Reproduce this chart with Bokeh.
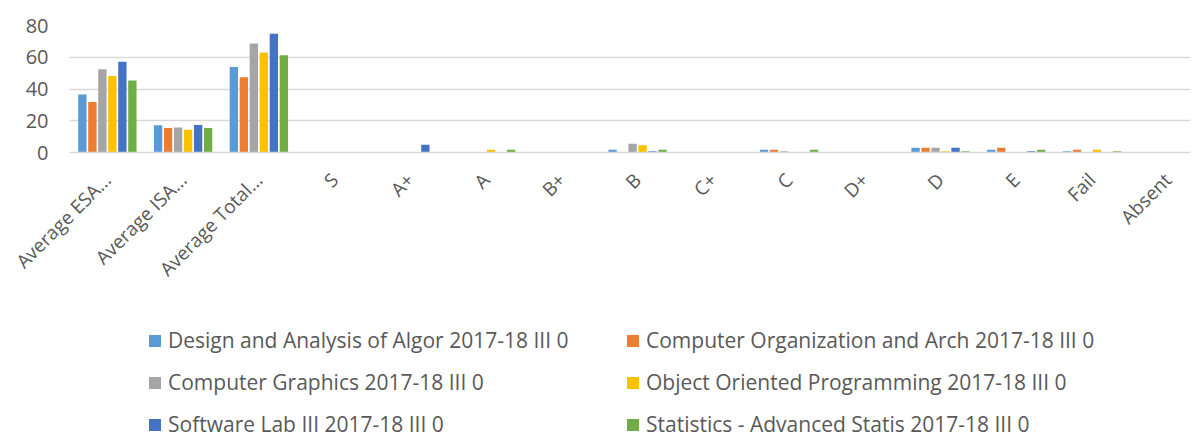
import math
from bokeh.plotting import figure
from bokeh.layouts import column
from bokeh.models import (ColumnDataSource, Range1d, FixedTicker, Legend, LegendItem)
from bokeh.transform import dodge
from bokeh.embed import file_html
from bokeh.resources import INLINE

categories = ["Average ESA...", "Average ISA...", "Average Total...", "S", "A+", "A",
              "B+", "B", "C+", "C", "D+", "D", "E", "Fail", "Absent"]

series_names = [
    "Design and Analysis of Algor 2017-18 III 0",
    "Computer Organization and Arch 2017-18 III 0",
    "Computer Graphics 2017-18 III 0",
    "Object Oriented Programming 2017-18 III 0",
    "Software Lab III 2017-18 III 0",
    "Statistics - Advanced Statis 2017-18 III 0",
]

design_algo   = [36.5, 17.1, 53.9, 0, 0, 0,   0, 1.7, 0, 1.7, 0, 3.0, 1.7, 0.8, 0]
comp_org      = [31.8, 15.4, 47.4, 0, 0, 0,   0, 0,   0, 1.7, 0, 3.0, 3.0, 1.7, 0]
comp_graphics = [52.5, 15.8, 68.7, 0, 0, 0,   0, 5.5, 0, 0.8, 0, 3.0, 0,   0,   0]
oop           = [48.2, 14.3, 63.0, 0, 0, 1.7, 0, 4.5, 0, 0,   0, 0.8, 0,   1.7, 0]
software_lab  = [57.1, 17.3, 74.8, 0, 4.9, 0, 0, 0.8, 0, 0,   0, 3.0, 0.8, 0,   0]
statistics    = [45.3, 15.4, 61.3, 0, 0, 1.7, 0, 1.7, 0, 1.7, 0, 0.8, 1.7, 0.8, 0]

y_ticks = [0, 20, 40, 60, 80]

colors = ["#5B9BD5", "#ED7D31", "#A5A5A5", "#FFC000", "#4472C4", "#70AD47"]
series_values = [design_algo, comp_org, comp_graphics, oop, software_lab, statistics]

idx = list(range(len(categories)))
data = {"x": idx}
for k, vals in enumerate(series_values):
    data["s%d" % k] = vals
source = ColumnDataSource(data)

FONT = "Open Sans"
TXT = "#595959"
GRID = "#D9D9D9"

p = figure(width=1190, height=302, output_backend="svg", toolbar_location=None,
           x_range=Range1d(-0.5, 14.3), y_range=Range1d(0, 80),
           min_border_left=69, min_border_right=0, min_border_top=25,
           min_border_bottom=150)
p.outline_line_color = None

step = 0.132
bw = 0.11
for k in range(6):
    p.vbar(x=dodge("x", (k - 2.5) * step, range=p.x_range), top="s%d" % k,
           width=bw, source=source, fill_color=colors[k], line_color=None)

p.xgrid.visible = False
p.ygrid.ticker = FixedTicker(ticks=y_ticks)
p.ygrid.grid_line_color = GRID
p.ygrid.grid_line_width = 1.5

p.yaxis.ticker = FixedTicker(ticks=y_ticks)
p.yaxis.axis_line_color = None
p.yaxis.major_tick_line_color = None
p.yaxis.minor_tick_line_color = None
p.yaxis.major_tick_out = 0
p.yaxis.major_label_standoff = 21
p.yaxis.major_label_text_font = FONT
p.yaxis.major_label_text_font_size = "20px"
p.yaxis.major_label_text_color = TXT

p.xaxis.ticker = FixedTicker(ticks=idx)
p.xaxis.major_label_overrides = {i: c for i, c in zip(idx, categories)}
p.xaxis.major_label_orientation = math.pi / 4
p.xaxis.axis_line_color = GRID
p.xaxis.axis_line_width = 1.5
p.xaxis.major_tick_line_color = None
p.xaxis.minor_tick_line_color = None
p.xaxis.major_tick_out = 0
p.xaxis.major_label_standoff = 24
p.xaxis.major_label_text_font = FONT
p.xaxis.major_label_text_font_size = "19px"
p.xaxis.major_label_text_color = TXT

# legend panel below the chart (its frame is aligned with the chart's frame)
p2 = figure(width=1190, height=136, output_backend="svg", toolbar_location=None,
            x_range=Range1d(-0.5, 14.3), y_range=Range1d(-200, -100),
            x_axis_type=None, y_axis_type=None,
            min_border_left=69, min_border_right=0, min_border_top=0, min_border_bottom=0)
p2.outline_line_color = None
p2.grid.visible = False
# zero-width copies of the series, used only for their legend swatches
swatches = [p2.vbar(x="x", top="s%d" % k, width=0, source=source,
                    fill_color=colors[k], line_color=None) for k in range(6)]

order = [0, 2, 4, 1, 3, 5]  # column-major fill -> reads row by row
legend = Legend(items=[LegendItem(label=series_names[k], renderers=[swatches[k]]) for k in order],
                ncols=2, location=(78, 0))
legend.border_line_color = None
legend.background_fill_alpha = 0
legend.padding = 0
legend.margin = 0
legend.spacing = 14
legend.glyph_width = 15
legend.glyph_height = 15
legend.label_standoff = 6
legend.label_width = 443
legend.label_height = 25
legend.label_text_font = FONT
legend.label_text_font_size = "21px"
legend.label_text_color = TXT
p2.add_layout(legend)

layout = column(p, p2, spacing=0)
open("out.html", "w").write(file_html(layout, INLINE))
